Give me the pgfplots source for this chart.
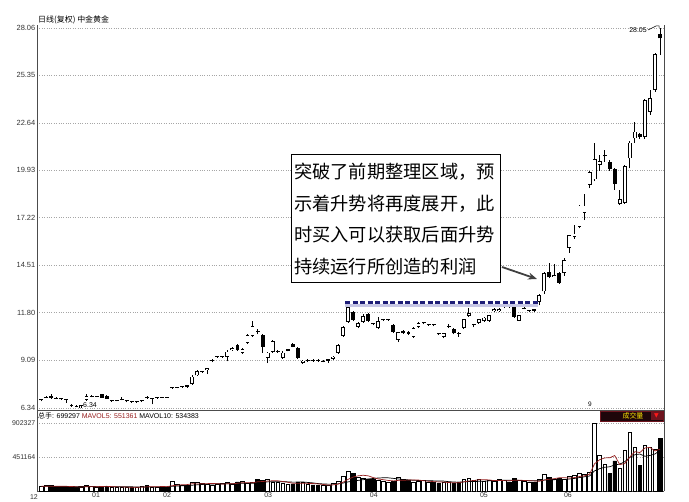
\documentclass[border=0pt]{standalone}
\usepackage{pgfplots}
\pgfplotsset{compat=1.18}
\usepackage{pgfplotstable}
\usepackage{fontspec}
\setmainfont{Liberation Sans}
\newfontfamily\cjk{Noto Sans CJK SC}
\newfontfamily\symfont{DejaVu Sans}
\usetikzlibrary{arrows.meta}
\definecolor{mared}{RGB}{150,30,30}
\definecolor{navyline}{RGB}{30,30,120}
\definecolor{shadowline}{RGB}{200,200,230}
\definecolor{boxbg}{RGB}{30,5,10}
\definecolor{boxedge}{RGB}{110,20,30}

% i = trading day, o h l c = prices, u = 1 rising / 0 falling, v = volume (thousand hands), m5 m10 = MAVOL5 / MAVOL10
\pgfplotstableread{
i o h l c u v m5 m10
0 6.78 6.88 6.72 6.82 1 60 62 58
1 6.93 7.00 6.90 6.96 1 75 63 58
2 7.04 7.12 6.88 6.90 0 70 64 59
3 6.90 6.95 6.85 6.88 0 55 63 59
4 6.86 6.90 6.80 6.84 0 60 64 60
5 6.82 6.86 6.65 6.80 0 50 62 60
6 6.50 6.55 6.40 6.45 0 65 60 59
7 6.45 6.50 6.38 6.43 0 45 55 58
8 6.44 6.52 6.34 6.49 1 50 54 59
9 6.80 7.12 6.76 7.04 1 70 56 60
10 7.00 7.06 6.95 7.02 1 60 58 60
11 7.00 7.05 6.96 7.01 1 55 56 58
12 7.12 7.14 6.92 6.93 0 65 60 57.5
13 7.04 7.06 6.86 6.87 0 60 62 58
14 6.74 6.78 6.70 6.75 1 50 58 57
15 6.76 6.80 6.72 6.77 1 45 55 56.5
16 6.82 6.95 6.78 6.84 1 55 55 55.5
17 6.72 6.76 6.66 6.73 1 50 52 56
18 6.70 6.74 6.64 6.69 0 45 49 55.5
19 6.69 6.73 6.64 6.70 1 50 49 53.5
20 6.72 6.80 6.68 6.74 1 60 52 53.5
21 6.97 7.00 6.88 6.90 0 70 55 55
22 6.86 6.92 6.55 6.87 1 55 56 54
23 6.92 6.96 6.88 6.94 1 50 57 53
24 6.96 6.97 6.92 6.93 0 60 59 54
25 6.96 6.97 6.92 6.93 0 55 58 55
26 7.48 7.55 7.44 7.50 1 130 70 62.5
27 7.50 7.56 7.46 7.52 1 90 77 66.5
28 7.53 7.60 7.50 7.55 1 80 83 70
29 7.64 7.68 7.50 7.54 0 70 85 72
30 7.71 8.20 7.68 8.13 1 110 96 77
31 8.20 8.50 8.18 8.45 1 120 94 82
32 8.40 8.48 8.35 8.42 1 100 96 86.5
33 8.50 8.65 8.28 8.60 1 90 98 90.5
34 9.05 9.12 8.95 9.08 1 80 100 92.5
35 9.26 9.30 9.20 9.27 1 95 97 96.5
36 9.26 9.30 9.22 9.28 1 100 93 93.5
37 9.27 9.65 9.00 9.56 1 110 95 95.5
38 9.65 9.80 9.60 9.75 1 90 95 96.5
39 9.94 10.00 9.60 9.65 0 120 103 101.5
40 9.50 9.75 9.45 9.70 1 130 110 103.5
41 10.05 10.55 10.00 10.50 1 100 110 101.5
42 10.45 11.30 10.40 11.00 1 110 110 102.5
43 10.75 10.85 10.55 10.70 0 150 122 108.5
44 10.50 10.55 9.50 9.83 0 140 126 114.5
45 9.20 9.55 8.90 9.50 1 160 132 121
46 9.56 10.25 9.50 10.17 1 120 136 123
47 9.55 9.65 9.50 9.57 1 110 136 123
48 9.20 9.60 9.15 9.50 1 100 126 124
49 9.62 9.72 9.58 9.70 1 90 116 121
50 10.00 10.05 9.80 9.85 0 95 103 117.5
51 9.77 9.80 9.15 9.20 0 110 101 118.5
52 8.91 9.08 8.88 9.05 1 120 103 119.5
53 9.00 9.12 8.96 9.06 1 90 101 113.5
54 9.08 9.12 8.98 9.04 0 80 99 107.5
55 9.08 9.12 8.98 9.03 0 70 94 98.5
56 9.00 9.06 8.95 9.02 1 75 87 94
57 9.05 9.15 8.90 9.12 1 80 79 91
58 9.15 9.32 9.10 9.28 1 100 81 91
59 9.50 9.98 9.45 9.94 1 130 91 95
60 10.45 11.00 10.40 10.97 1 200 117 105.5
61 11.27 12.15 11.20 12.09 1 265 155 121
62 11.83 11.90 11.30 11.37 0 230 185 132
63 10.97 11.25 10.90 11.20 1 180 201 141
64 11.25 11.70 11.20 11.60 1 170 209 150
65 11.70 11.75 11.25 11.30 0 160 201 159
66 11.16 11.20 11.08 11.12 0 150 178 166.5
67 10.90 11.55 10.85 11.30 1 140 160 172.5
68 11.35 11.45 11.30 11.38 1 130 150 175.5
69 11.36 11.42 11.32 11.37 1 120 140 174.5
70 11.08 11.12 10.62 10.68 0 130 134 167.5
71 10.23 10.70 10.10 10.68 1 185 141 159.5
72 10.72 10.78 10.58 10.60 0 150 143 151.5
73 10.68 10.72 10.50 10.57 0 140 145 147.5
74 10.40 10.95 10.35 10.90 1 120 145 142.5
75 10.97 11.25 10.90 11.20 1 130 145 139.5
76 11.18 11.28 11.12 11.20 1 140 136 138.5
77 11.10 11.16 11.05 11.12 1 120 130 136.5
78 11.10 11.14 11.00 11.08 0 110 124 134.5
79 10.62 10.65 10.50 10.55 0 100 120 132.5
80 10.40 10.65 10.32 10.60 1 120 118 131.5
81 10.98 11.15 10.90 11.00 1 110 112 124
82 10.85 10.90 10.55 10.60 0 100 108 119
83 10.62 10.66 10.40 10.60 0 120 110 117
84 10.90 11.45 10.85 11.40 1 160 122 121
85 11.60 12.05 11.55 11.77 1 175 133 125.5
86 11.08 11.15 10.95 11.12 1 140 139 125.5
87 11.20 11.45 11.15 11.40 1 150 149 128.5
88 11.30 11.55 11.25 11.50 1 130 151 130.5
89 11.30 11.68 11.28 11.65 1 140 147 134.5
90 11.90 12.05 11.85 12.00 1 130 138 135.5
91 11.90 12.05 11.85 12.00 1 150 140 139.5
92 12.15 12.25 12.05 12.18 1 140 138 143.5
93 12.16 12.25 12.05 12.14 0 120 136 143.5
94 12.22 12.25 11.50 11.56 0 170 142 144.5
95 11.33 11.68 11.30 11.65 1 140 144 141
96 12.02 12.10 11.98 12.05 1 130 140 140
97 11.88 11.95 11.80 11.92 1 120 136 137
98 11.97 12.00 11.85 11.90 0 110 134 135
99 12.40 12.85 12.20 12.80 1 150 130 136
100 13.00 14.10 12.85 14.05 1 220 146 145
101 14.10 14.60 13.75 13.80 0 180 156 148
102 13.85 14.55 13.80 13.95 1 160 164 150
103 14.05 14.10 13.45 13.50 0 170 176 155
104 14.05 14.90 13.90 14.80 1 150 176 153
105 15.50 16.20 15.20 16.20 1 200 172 159
106 16.10 16.80 16.00 16.30 1 210 178 167
107 16.70 17.95 16.60 17.90 1 230 192 178
108 17.50 18.57 17.08 17.90 1 220 202 189
109 19.10 19.90 18.90 19.80 1 250 222 199
110 19.40 21.50 19.30 20.55 1 900 362 267
111 20.23 20.80 19.90 20.45 1 475 415 296.5
112 20.72 21.08 20.40 20.76 1 350 439 315.5
113 20.41 20.50 19.90 19.98 0 230 441 321.5
114 19.98 20.05 18.80 19.14 0 400 471 346.5
115 18.00 18.80 17.95 18.27 1 300 351 356.5
116 18.07 20.20 18.00 20.17 1 540 364 389.5
117 20.60 21.60 20.03 21.50 1 785 451 445
118 21.75 22.66 21.50 22.13 1 585 522 481.5
119 21.98 22.05 21.70 21.83 0 340 510 490.5
120 21.84 24.00 21.70 23.94 1 605 571 461
121 23.27 24.50 23.10 24.03 1 580 579 471.5
122 24.51 26.60 24.40 26.55 1 550 532 491.5
123 27.69 28.06 26.50 27.46 0 700 555 538.5
}\kdata

\pgfplotsset{
  candle part/.style={draw=none, no markers, forget plot,
    error bars/y dir=plus, error bars/y explicit, error bars/error mark=none},
}

\begin{document}
\begin{tikzpicture}
\useasboundingbox (0,0) rectangle (689bp,502bp);

% ---- price panel ----
\begin{axis}[
  at={(37bp,92bp)}, anchor=south west, scale only axis,
  width=627bp, height=385bp,
  xmin=-0.85, xmax=123.8, ymin=6.226, ymax=28.226,
  axis x line*=bottom, axis y line*=left,
  axis line style={black!70, line width=0.8bp},
  xtick=\empty,
  ytick={6.34,9.09,11.80,14.51,17.22,19.93,22.64,25.35,28.06},
  yticklabels={6.34,9.09,11.80,14.51,17.22,19.93,22.64,25.35,28.06},
  yticklabel style={font=\fontsize{7.5}{8}\selectfont, text=black!80, inner sep=1.5bp},
  major tick length=0pt,
  ymajorgrids, grid style={black!35, dotted, line width=0.5bp},
  clip=false,
]
% wicks
\addplot[candle part, error bars/error bar style={draw=black, line width=0.8bp}]
  table[x=i, y=l, y error plus expr=\thisrow{h}-\thisrow{l}] {\kdata};
% falling bodies
\addplot[candle part, restrict expr to domain={\thisrow{u}}{-0.5:0.5},
  error bars/error bar style={draw=black, line width=3.9bp}]
  table[x=i, y expr={min(\thisrow{o},\thisrow{c})},
        y error plus expr={max(abs(\thisrow{o}-\thisrow{c}),0.05)}] {\kdata};
% rising bodies: outline, then white inside
\addplot[candle part, restrict expr to domain={\thisrow{u}}{0.5:1.5},
  error bars/error bar style={draw=black, line width=3.9bp}]
  table[x=i, y expr={min(\thisrow{o},\thisrow{c})},
        y error plus expr={max(abs(\thisrow{o}-\thisrow{c}),0.05)}] {\kdata};
\addplot[candle part, restrict expr to domain={\thisrow{u}}{0.5:1.5},
  error bars/error bar style={draw=white, line width=2.4bp}]
  table[x=i, y expr={min(\thisrow{o},\thisrow{c})+0.045},
        y error plus expr={max(abs(\thisrow{o}-\thisrow{c})-0.09,0)}] {\kdata};
\draw[black!70, line width=0.8bp] (rel axis cs:1,0) -- (rel axis cs:1,1);
\end{axis}

% ---- volume panel ----
\begin{axis}[
  at={(37bp,11bp)}, anchor=south west, scale only axis,
  width=627bp, height=81bp,
  xmin=-0.85, xmax=123.8, ymin=0, ymax=1075,
  axis x line*=bottom, axis y line*=left,
  axis line style={black!70, line width=0.8bp},
  xtick={10.9,25,45.1,66.1,88,104.7},
  xticklabels={01,02,03,04,05,06},
  xticklabel style={font=\fontsize{7}{8}\selectfont, text=black!80, inner sep=1bp},
  ytick={451.164,902.327},
  yticklabels={451164,902327},
  yticklabel style={font=\fontsize{7}{8}\selectfont, text=black!80, inner sep=1.5bp},
  major tick length=0pt,
  ymajorgrids, grid style={black!35, dotted, line width=0.5bp},
  clip=false,
]
\addplot[ybar, bar width=3.7bp, bar shift=0pt, fill=white, draw=black, line width=0.6bp,
  restrict expr to domain={\thisrow{u}}{0.5:1.5}] table[x=i, y=v] {\kdata};
\addplot[ybar, bar width=3.7bp, bar shift=0pt, fill=black, draw=black, line width=0.6bp,
  restrict expr to domain={\thisrow{u}}{-0.5:0.5}] table[x=i, y=v] {\kdata};
\addplot[black, line width=0.7bp] table[x=i, y=m10] {\kdata};
\addplot[mared, line width=0.7bp] table[x=i, y=m5] {\kdata};
\draw[black!70, line width=0.8bp] (rel axis cs:1,0) -- (rel axis cs:1,1);
\end{axis}

% ---- texts and marks ----
\node[anchor=west, inner sep=0, font=\cjk\fontsize{8}{9}\selectfont] at (38bp,482bp) {日线(复权)\ 中金黄金};
\node[anchor=west, inner sep=0, font=\fontsize{7}{8}\selectfont] at (38bp,86bp)
  {{\cjk 总手}: 699297 \textcolor{mared}{MAVOL5: 551361} MAVOL10: 534383};
\node[anchor=north, inner sep=0, font=\fontsize{7}{8}\selectfont, text=black!80] at (34bp,8bp) {12};
\node[inner sep=0, font=\fontsize{7}{8}\selectfont] at (638bp,472bp) {28.05};
\draw[black, line width=0.5bp] (648bp,472bp) -- (656bp,476bp) -- (659bp,476bp) -- (659bp,474bp);
\node[anchor=west, inner sep=0, font=\fontsize{7}{8}\selectfont] at (83bp,96.5bp) {6.34};
\draw[black, line width=0.5bp] (79bp,94bp) -- (79bp,96.5bp) -- (82bp,96.5bp);
\node[inner sep=0, font=\fontsize{6.5}{7}\selectfont] at (590bp,98bp) {9};

% volume selector box
\draw[boxedge, fill=boxbg, line width=0.8bp] (600bp,81bp) rectangle (663bp,91bp);
\fill[boxedge] (651bp,81.5bp) rectangle (662.5bp,90.5bp);
\node[inner sep=0, font=\cjk\fontsize{7}{8}\selectfont, text=yellow!90!orange] at (633bp,86bp) {成交量};
\node[inner sep=0, font=\symfont\fontsize{6}{7}\selectfont, text=red!90!white] at (656.5bp,86bp) {▼};

% resistance line
\draw[shadowline, line width=2.5bp] (345bp,196.7bp) -- (538bp,196.7bp);
\draw[navyline, line width=3bp, dash pattern=on 5bp off 2.5bp] (345bp,199.7bp) -- (538bp,199.7bp);

% callout
\draw[black, line width=1bp, fill=white] (291bp,347bp) rectangle (500bp,219bp);
\node[anchor=west, inner sep=0, align=left, font=\cjk\fontsize{18.3}{32}\selectfont] at (294bp,283bp)
  {突破了前期整理区域，预\\示着升势将再度展开，此\\时买入可以获取后面升势\\持续运行所创造的利润};
\draw[black!75, line width=1.8bp, -{Stealth[length=9bp,width=7bp]}] (502bp,235bp) -- (537bp,223bp);
\end{tikzpicture}
\end{document}
